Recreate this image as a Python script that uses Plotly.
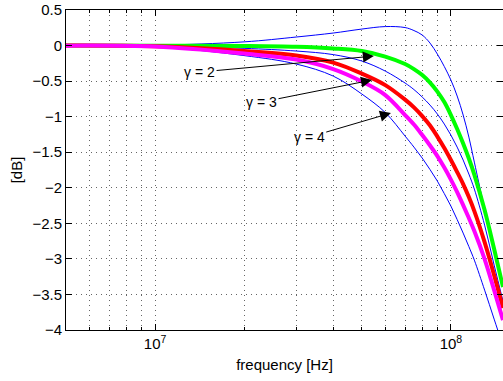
import math
import plotly.graph_objects as go

freq = [5e6, 1e7, 2e7, 3e7, 4e7, 5e7, 6e7, 7e7, 7.5e7, 8e7, 8.5e7, 9e7, 9.5e7,
        1e8, 1.05e8, 1.1e8, 1.15e8, 1.2e8, 1.3e8, 1.4e8, 1.5e8]

blue_peak = [0.0, 0.004, 0.052, 0.120, 0.176, 0.232, 0.267, 0.253, 0.211, 0.148, 0.035,
             -0.120, -0.295, -0.485, -0.710, -0.977, -1.287, -1.639, -2.30, -2.862, -3.368]
green_g2 = [0.0, -0.002, -0.007, -0.018, -0.041, -0.077, -0.155, -0.260, -0.331, -0.415, -0.520,
            -0.647, -0.795, -0.977, -1.174, -1.378, -1.589, -1.814, -2.314, -2.862, -3.397]
blue_mid = [0.0, -0.004, -0.039, -0.077, -0.127, -0.218, -0.359, -0.527, -0.619, -0.724, -0.837,
            -0.963, -1.104, -1.259, -1.428, -1.610, -1.807, -2.018, -2.525, -3.087, -3.594]
red_g3 = [0.0, -0.011, -0.077, -0.141, -0.239, -0.394, -0.556, -0.760, -0.869, -0.992, -1.125,
          -1.280, -1.442, -1.610, -1.779, -1.948, -2.131, -2.328, -2.764, -3.228, -3.692]
magenta_g4 = [-0.001, -0.015, -0.113, -0.197, -0.331, -0.506, -0.696, -0.977, -1.111, -1.259, -1.406,
              -1.554, -1.716, -1.885, -2.060, -2.243, -2.426, -2.609, -3.003, -3.439, -3.861]
blue_low = [-0.001, -0.018, -0.141, -0.260, -0.429, -0.682, -0.942, -1.273, -1.428, -1.582, -1.744,
            -1.906, -2.082, -2.257, -2.447, -2.637, -2.827, -3.017, -3.439, -3.847, -4.226]

y_ticks = [0.5, 0, -0.5, -1, -1.5, -2, -2.5, -3, -3.5, -4]
y_labels = ["0.5", "0", "\u22120.5", "\u22121", "\u22121.5", "\u22122", "\u22122.5", "\u22123", "\u22123.5", "\u22124"]
x_major = [1e7, 1e8]
x_major_labels = ["10<sup>7</sup>", "10<sup>8</sup>"]
x_minor = [5e6, 6e6, 7e6, 8e6, 9e6, 2e7, 3e7, 4e7, 5e7, 6e7, 7e7, 8e7, 9e7]

gamma_labels = ["\u03b3 = 2", "\u03b3 = 3", "\u03b3 = 4"]
arrow_tips = [(5.49e7, -0.148), (5.41e7, -0.485), (6.27e7, -0.949)]
label_pos = [(1.414e7, -0.373), (2.29e7, -0.795), (3.32e7, -1.287)]

fig = go.Figure()
series = [
    (blue_peak, "#0000ff", 1),
    (blue_mid, "#0000ff", 1),
    (blue_low, "#0000ff", 1),
    (green_g2, "#00ff00", 4),
    (red_g3, "#ff0000", 4),
    (magenta_g4, "#ff00ff", 4),
]
for vals, col, w in series:
    fig.add_trace(go.Scatter(x=freq, y=vals, mode="lines",
                             line=dict(color=col, width=w, shape="spline", smoothing=1.0),
                             showlegend=False, hoverinfo="skip"))

for txt, (tx, ty), (lx, ly) in zip(gamma_labels, arrow_tips, label_pos):
    fig.add_annotation(x=math.log10(tx), y=ty, xref="x", yref="y",
                       ax=math.log10(lx), ay=ly, axref="x", ayref="y",
                       text=txt, showarrow=True, arrowhead=2, arrowsize=2.2,
                       arrowwidth=1, arrowcolor="black",
                       font=dict(family="Liberation Sans", size=14, color="black"),
                       standoff=0, startstandoff=0)

grid_col = "rgba(0,0,0,0.6)"
gdash = "1px,4px"
fig.update_layout(
    width=503, height=381,
    margin=dict(l=66, r=0, t=10, b=51, autoexpand=False),
    paper_bgcolor="white", plot_bgcolor="white",
    font=dict(family="Liberation Sans", size=14, color="black"),
    xaxis=dict(type="log", range=[math.log10(5e6), math.log10(1.5e8)],
               automargin=False,
               tickmode="array", tickvals=x_major, ticktext=x_major_labels,
               showgrid=True, gridcolor=grid_col, griddash=gdash, gridwidth=1,
               ticks="inside", ticklen=6, tickcolor="black",
               showline=True, linecolor="black", linewidth=1, mirror="ticks",
               zeroline=False,
               minor=dict(tickmode="array", tickvals=x_minor, showgrid=True,
                          gridcolor=grid_col, griddash=gdash, gridwidth=1,
                          ticks="inside", ticklen=3, tickcolor="black"),
               title=dict(text="frequency [Hz]", standoff=8, font=dict(size=15)),
               tickfont=dict(size=15)),
    yaxis=dict(range=[-4, 0.5], tickmode="array", tickvals=y_ticks, ticktext=y_labels,
               automargin=False,
               showgrid=True, gridcolor=grid_col, griddash=gdash, gridwidth=1,
               ticks="inside", ticklen=6, tickcolor="black",
               showline=True, linecolor="black", linewidth=1, mirror="ticks",
               zeroline=False,
               title=dict(text="[dB]", standoff=6, font=dict(size=15)),
               tickfont=dict(size=15)),
)

fig.write_html("out.html", config={"displayModeBar": False},
               post_script="document.body.style.margin='0';")
